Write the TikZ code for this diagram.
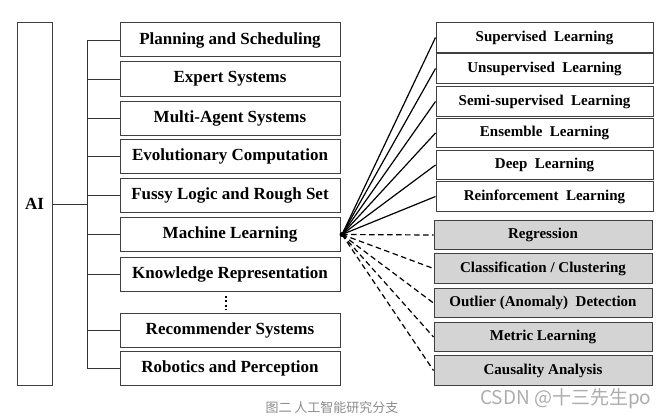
\documentclass[tikz,border=0pt]{standalone}
\usepackage{fontspec}
\setmainfont{Liberation Serif}
\newfontfamily\cjk{Noto Sans CJK SC}
\begin{document}
\begin{tikzpicture}[x=1pt,y=-1pt,
  box/.style={draw=black!75, line width=1pt, fill=white, rectangle, inner sep=0pt,
    font=\fontsize{17}{20}\selectfont\bfseries},
  lbox/.style={box, minimum width=220pt, minimum height=34pt},
  rbox/.style={box, minimum width=217pt, minimum height=29.5pt,
    font=\fontsize{15}{18}\selectfont\bfseries},
  gbox/.style={rbox, fill=black!17, minimum width=218pt},
  conn/.style={line width=1.2pt, black},
  tconn/.style={line width=0.9pt, black!80},
  dconn/.style={conn, dash pattern=on 5.5pt off 3.5pt}]
\fill[white] (0,0) rectangle (669,420);
\useasboundingbox (0,0) rectangle (669,420);
% AI box
\node[box, minimum width=35pt, minimum height=362pt] (ai) at (34.5,204) {AI};
% left boxes
\node[lbox] (l1) at (230,40) {Planning and Scheduling};
\node[lbox] (l2) at (230,79) {Expert Systems};
\node[lbox] (l3) at (230,118) {Multi-Agent Systems};
\node[lbox] (l4) at (230,156) {Evolutionary Computation};
\node[lbox] (l5) at (230,195.5) {Fussy Logic and Rough Set};
\node[lbox] (l6) at (230,234.5) {Machine Learning};
\node[lbox] (l7) at (230,274) {Knowledge Representation};
\node[lbox] (l8) at (230,330) {Recommender Systems};
\node[lbox] (l9) at (230,368.5) {Robotics and Perception};
% right boxes
\node[rbox] (r1) at (544.5,37.5) {Supervised\ \ Learning};
\node[rbox] (r2) at (544.5,68.5) {Unsupervised\ \ Learning};
\node[rbox] (r3) at (544.5,101.5) {Semi-supervised\ \ Learning};
\node[rbox] (r4) at (544.5,133) {Ensemble\ \ Learning};
\node[rbox] (r5) at (544.5,165) {Deep\ \ Learning};
\node[rbox] (r6) at (544.5,196.5) {Reinforcement\ \ Learning};
\node[gbox] (g1) at (543,235) {Regression};
\node[gbox] (g2) at (543,268.5) {Classification / Clustering};
\node[gbox] (g3) at (543,303) {Outlier (Anomaly)\ \ Detection};
\node[gbox] (g4) at (543,337) {Metric Learning};
\node[gbox] (g5) at (543,370.5) {Causality Analysis};
% tree connectors
\coordinate (trunk) at (87,0);
\draw[tconn] (ai.east) -- (ai.east -| trunk);
\draw[tconn] (l1.west -| trunk) -- (l9.west -| trunk);
\foreach \n in {l1,l2,l3,l4,l5,l6,l7,l8,l9}
  \draw[tconn] (\n.west) -- (\n.west -| trunk);
% vertical dots
\draw[line width=2pt, dash pattern=on 2pt off 2.6pt, shorten <=4pt, shorten >=3pt]
  ([xshift=-4pt]l7.south) -- ([xshift=-4pt]l8.north);
% hub
\coordinate (hub) at ([xshift=1.5pt]l6.east);
\foreach \n in {r1,r2,r3,r4,r5,r6}
  \draw[conn] (hub) -- (\n.west);
\foreach \n in {g1,g2,g3,g4,g5}
  \draw[dconn] (hub) -- (\n.west);
\fill (hub) circle (2.5pt);
% captions
\node[font=\cjk\fontsize{13}{15}\selectfont, text=black!45] (cap) at (332,408) {图二 人工智能研究分支};
\node[font=\cjk\fontsize{19}{22}\selectfont, text=black!32, anchor=east] (wm) at (655,399) {CSDN @十三先生po};
\end{tikzpicture}
\end{document}
